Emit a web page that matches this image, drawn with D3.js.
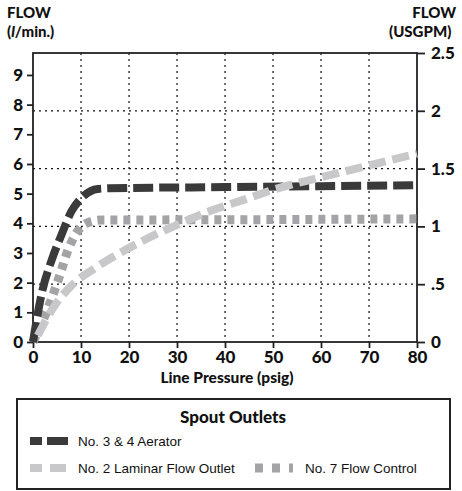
<!DOCTYPE html>
<html><head><meta charset="utf-8">
<script src="https://cdn.jsdelivr.net/npm/d3@7"></script>
<style>
html,body{margin:0;padding:0;background:#fff;}
svg{display:block;}
.b{font-family:"Gill Sans","Lato","Open Sans",sans-serif;font-weight:900;fill:#111;}
</style></head>
<body>
<svg id="c" width="462" height="491"></svg>
<script>
// Data (x = line pressure psig, y = flow l/min)
const pressureTicks = [0,10,20,30,40,50,60,70,80];
const leftTicks = [0,1,2,3,4,5,6,7,8,9];
const rightTicks = [0,0.5,1,1.5,2,2.5];
const rightTickLabels = ["0",".5","1","1.5","2","2.5"];
const aeratorP = [0,0.35,1.7,4.2,5.9,8,10.4,13.5,16,40,60,80];
const aeratorF = [0,0.35,1.55,2.9,3.6,4.4,4.9,5.16,5.18,5.22,5.25,5.28];
const laminarP = [1,4,8,13,17,23,30,37,44,51,60,70,80];
const laminarF = [0.22,1.1,1.9,2.5,2.9,3.42,3.95,4.42,4.8,5.18,5.55,5.95,6.35];
const controlP = [0,0.7,3.1,5.6,7.3,9,11.1,14.2,40,80];
const controlF = [0,0.24,1.13,2.26,3.1,3.66,4.0,4.11,4.12,4.15];
const seriesNames = ["No. 3 & 4 Aerator","No. 2 Laminar Flow Outlet","No. 7 Flow Control"];

const svg = d3.select("#c");
const L=33,R=417,T=53,B=342;
const x = d3.scaleLinear().domain([0,80]).range([L,R]);
const yL = d3.scaleLinear().domain([0,9.74]).range([B,T]);
const yR = d3.scaleLinear().domain([0,2.5]).range([B,T]);

// gridlines
const g = svg.append("g");
g.selectAll("line.v").data(pressureTicks.filter(d=>d>0&&d<80)).join("line")
  .attr("x1",d=>x(d)).attr("x2",d=>x(d)).attr("y1",T).attr("y2",B)
  .attr("stroke","#111").attr("stroke-width",1.2).attr("stroke-dasharray","2,4");
g.selectAll("line.h").data(rightTicks.filter(d=>d>0&&d<2.5)).join("line")
  .attr("y1",d=>yR(d)).attr("y2",d=>yR(d)).attr("x1",L).attr("x2",R)
  .attr("stroke","#111").attr("stroke-width",1.2).attr("stroke-dasharray","2,4");

// frame
svg.append("rect").attr("x",L).attr("y",T).attr("width",R-L).attr("height",B-T)
  .attr("fill","none").attr("stroke","#222").attr("stroke-width",1.8);

// axes
const ax = svg.append("g").attr("transform",`translate(0,${B})`)
  .call(d3.axisBottom(x).tickValues(pressureTicks).tickSize(6).tickPadding(3).tickFormat(d3.format("d")));
const axl = svg.append("g").attr("transform",`translate(${L},0)`)
  .call(d3.axisLeft(yL).tickValues(leftTicks).tickSize(6).tickPadding(4).tickFormat(d3.format("d")));
const axr = svg.append("g").attr("transform",`translate(${R},0)`)
  .call(d3.axisRight(yR).tickValues(rightTicks).tickSize(8).tickPadding(6).tickFormat((d,i)=>rightTickLabels[i]));
[ax,axl,axr].forEach(a=>{
  a.select(".domain").remove();
  a.selectAll(".tick line").attr("stroke","#222").attr("stroke-width",1.8);
  a.selectAll(".tick text").attr("class","b").attr("fill","#111").style("font-size","17px");
});

// lines
const line = d3.line().x(d=>x(d[0])).y(d=>yL(d[1])).curve(d3.curveMonotoneX);
const zip=(a,b)=>a.map((v,i)=>[v,b[i]]);
svg.append("path").attr("d",line(zip(controlP,controlF))).attr("fill","none")
  .attr("stroke","#a4a4a6").attr("stroke-width",9).attr("stroke-dasharray","7,6");
svg.append("path").attr("d",line(zip(aeratorP,aeratorF))).attr("fill","none")
  .attr("stroke","#3a3a3a").attr("stroke-width",8).attr("stroke-dasharray","20,6");
svg.append("path").attr("d",line(zip(laminarP,laminarF))).attr("fill","none")
  .attr("stroke","#c8c8ca").attr("stroke-width",8).attr("stroke-dasharray","17,7");

// axis titles
svg.append("text").attr("class","b").attr("x",7).attr("y",18).style("font-size","15px").text("FLOW");
const lt = svg.append("text").attr("class","b").attr("x",7).attr("y",37).style("font-size","15px");
lt.append("tspan").text("(");
lt.append("tspan").style("font-style","italic").text("l");
lt.append("tspan").text("/min.)");
svg.append("text").attr("class","b").attr("x",456).attr("y",18).attr("text-anchor","end").style("font-size","15px").text("FLOW");
svg.append("text").attr("class","b").attr("x",389).attr("y",37).style("font-size","15px").text("(USGPM)");
svg.append("text").attr("class","b").attr("x",(L+R)/2+2).attr("y",383).attr("text-anchor","middle").style("font-size","15.5px").text("Line Pressure (psig)");

// legend
svg.append("rect").attr("x",17).attr("y",399).attr("width",433).attr("height",90)
  .attr("fill","none").attr("stroke","#222").attr("stroke-width",2);
svg.append("text").attr("class","b").attr("x",233).attr("y",423).attr("text-anchor","middle").style("font-size","17px").text("Spout Outlets");
const lg = [
  {name:seriesNames[0], x:30, y:441, c:"#3a3a3a", w:8, dash:"12,5,21,10", tx:78},
  {name:seriesNames[1], x:30, y:468, c:"#c8c8ca", w:8, dash:"12,8,16,10", tx:78},
  {name:seriesNames[2], x:255, y:468, c:"#a4a4a6", w:9, dash:"8,9", tx:305}
];
lg.forEach(d=>{
  svg.append("line").attr("x1",d.x).attr("x2",d.x+38).attr("y1",d.y).attr("y2",d.y)
    .attr("stroke",d.c).attr("stroke-width",d.w).attr("stroke-dasharray",d.dash);
  svg.append("text").attr("x",d.tx).attr("y",d.y+4.5).style("font-family","'Liberation Sans',Arial,sans-serif")
    .style("font-size","13.5px").attr("fill","#111").text(d.name);
});
</script>
</body></html>
